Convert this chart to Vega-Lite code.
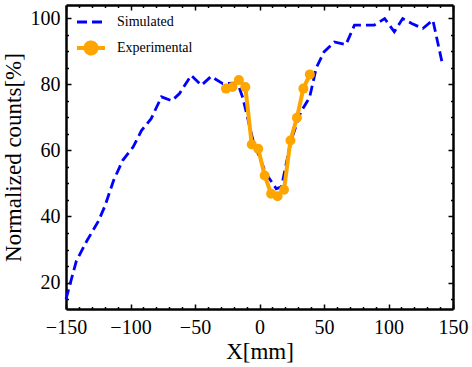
{
  "$schema": "https://vega.github.io/schema/vega-lite/v6.json",
  "width": 387,
  "height": 304,
  "autosize": {"type": "none"},
  "padding": {"left": 66, "top": 5, "right": 19, "bottom": 58},
  "background": "white",
  "datasets": {
    "sim": [
      {"x": -150, "y": 15}, {"x": -142, "y": 26.5}, {"x": -134, "y": 32.5}, {"x": -125, "y": 38.5},
      {"x": -120, "y": 43}, {"x": -113, "y": 51}, {"x": -106, "y": 57}, {"x": -98, "y": 61},
      {"x": -91.5, "y": 66}, {"x": -84, "y": 69.6}, {"x": -76, "y": 76.2}, {"x": -68, "y": 75},
      {"x": -62, "y": 77.2}, {"x": -53, "y": 82.7}, {"x": -45, "y": 79.7}, {"x": -37.5, "y": 82.4},
      {"x": -28.5, "y": 80.2}, {"x": -17, "y": 80.4}, {"x": -13, "y": 76}, {"x": -5, "y": 63},
      {"x": 5, "y": 53}, {"x": 13, "y": 48.4}, {"x": 17, "y": 49}, {"x": 24.5, "y": 63},
      {"x": 32, "y": 71.6}, {"x": 38.8, "y": 76}, {"x": 44, "y": 85}, {"x": 50, "y": 89.8},
      {"x": 58, "y": 92.8}, {"x": 67, "y": 92}, {"x": 73.6, "y": 97.9}, {"x": 89, "y": 97.9},
      {"x": 97, "y": 99.9}, {"x": 104.5, "y": 95.9}, {"x": 111, "y": 99.9}, {"x": 118, "y": 98.4},
      {"x": 126.6, "y": 96.9}, {"x": 134.4, "y": 99.4}, {"x": 142, "y": 85.8}
    ],
    "exp": [
      {"x": -26, "y": 78.7}, {"x": -21, "y": 79.2}, {"x": -16, "y": 81.3}, {"x": -11, "y": 79.2},
      {"x": -6, "y": 61.8}, {"x": -1, "y": 60.5}, {"x": 4, "y": 52.4}, {"x": 9, "y": 46.9},
      {"x": 14, "y": 46.1}, {"x": 19, "y": 48.1}, {"x": 24, "y": 63}, {"x": 29, "y": 69.9},
      {"x": 34, "y": 78.7}, {"x": 39, "y": 83}
    ]
  },
  "config": {
    "view": {"stroke": null},
    "font": "Liberation Serif",
    "legend": {
      "labelFont": "Liberation Serif",
      "labelFontSize": 14,
      "labelColor": "black"
    },
    "axis": {
      "grid": false,
      "domainColor": "black",
      "domainWidth": 2.5,
      "tickColor": "black",
      "tickWidth": 1.5,
      "labelFont": "Liberation Serif",
      "labelFontSize": 20,
      "labelColor": "black",
      "labelFlush": false,
      "labelOverlap": false,
      "titleFont": "Liberation Serif",
      "titleFontSize": 23,
      "titleFontWeight": "normal",
      "titleColor": "black"
    }
  },
  "resolve": {"axis": {"x": "independent", "y": "independent"}},
  "layer": [
    {
      "data": {"name": "sim"},
      "mark": {"type": "line", "strokeWidth": 2.8, "strokeDash": [10, 5]},
      "encoding": {
        "x": {
          "field": "x", "type": "quantitative",
          "scale": {"domain": [-150, 150], "nice": false, "zero": false},
          "axis": {
            "orient": "bottom", "title": "X[mm]",
            "values": [-150,-140,-130,-120,-110,-100,-90,-80,-70,-60,-50,-40,-30,-20,-10,0,10,20,30,40,50,60,70,80,90,100,110,120,130,140,150],
            "labelExpr": "datum.value % 50 === 0 ? datum.label : ''",
            "tickSize": {"condition": {"test": "datum.value % 50 === 0", "value": -5}, "value": -2.5},
            "labelPadding": 13,
            "titlePadding": 1
          }
        },
        "y": {
          "field": "y", "type": "quantitative",
          "scale": {"domain": [12, 104], "nice": false, "zero": false},
          "axis": {
            "orient": "left", "title": "Normalized counts[%]",
            "values": [15,20,25,30,35,40,45,50,55,60,65,70,75,80,85,90,95,100],
            "labelExpr": "datum.value % 20 === 0 ? datum.label : ''",
            "tickSize": {"condition": {"test": "datum.value % 20 === 0", "value": -5}, "value": -2.5},
            "labelPadding": 11,
            "titlePadding": 5
          }
        },
        "color": {
          "datum": "Simulated",
          "scale": {"domain": ["Simulated", "Experimental"], "range": ["#0000ff", "#ffa500"]},
          "legend": {
            "title": null,
            "orient": "none",
            "legendX": 18,
            "legendY": 10,
            "padding": 0,
            "symbolSize": 196,
            "labelFont": "Liberation Serif",
            "labelFontSize": 14,
            "labelColor": "black",
            "labelOffset": 19,
            "rowPadding": 5,
            "encode": {
              "labels": {
                "update": {
                  "font": {"value": "Liberation Serif"},
                  "fontSize": {"value": 14},
                  "fill": {"value": "black"}
                }
              },
              "symbols": {
                "update": {
                  "shape": {"signal": "datum.value === 'Simulated' ? 'M-2,0L2,0' : 'M-2,0L2,0M-0.79,0A0.79,0.79,0,1,1,0.79,0A0.79,0.79,0,1,1,-0.79,0Z'"},
                  "strokeDash": {"signal": "datum.value === 'Simulated' ? [10,5] : [1,0]"},
                  "fill": {"signal": "datum.value === 'Simulated' ? 'transparent' : '#ffa500'"},
                  "stroke": {"signal": "datum.value === 'Simulated' ? '#0000ff' : '#ffa500'"},
                  "strokeWidth": {"signal": "datum.value === 'Simulated' ? 3 : 4"},
                  "opacity": {"value": 1}
                }
              }
            }
          }
        }
      }
    },
    {
      "data": {"name": "exp"},
      "mark": {"type": "line", "strokeWidth": 4},
      "encoding": {
        "x": {
          "field": "x", "type": "quantitative",
          "axis": {
            "orient": "top", "title": null, "labels": false,
            "values": [-150,-140,-130,-120,-110,-100,-90,-80,-70,-60,-50,-40,-30,-20,-10,0,10,20,30,40,50,60,70,80,90,100,110,120,130,140,150],
            "tickSize": {"condition": {"test": "datum.value % 50 === 0", "value": -5}, "value": -2.5}
          }
        },
        "y": {
          "field": "y", "type": "quantitative",
          "axis": {
            "orient": "right", "title": null, "labels": false,
            "values": [15,20,25,30,35,40,45,50,55,60,65,70,75,80,85,90,95,100],
            "tickSize": {"condition": {"test": "datum.value % 20 === 0", "value": -5}, "value": -2.5}
          }
        },
        "color": {"datum": "Experimental"}
      }
    },
    {
      "data": {"name": "exp"},
      "mark": {"type": "point", "filled": true, "size": 100, "opacity": 1},
      "encoding": {
        "x": {"field": "x", "type": "quantitative", "axis": null},
        "y": {"field": "y", "type": "quantitative", "axis": null},
        "color": {"datum": "Experimental"}
      }
    }
  ]
}
